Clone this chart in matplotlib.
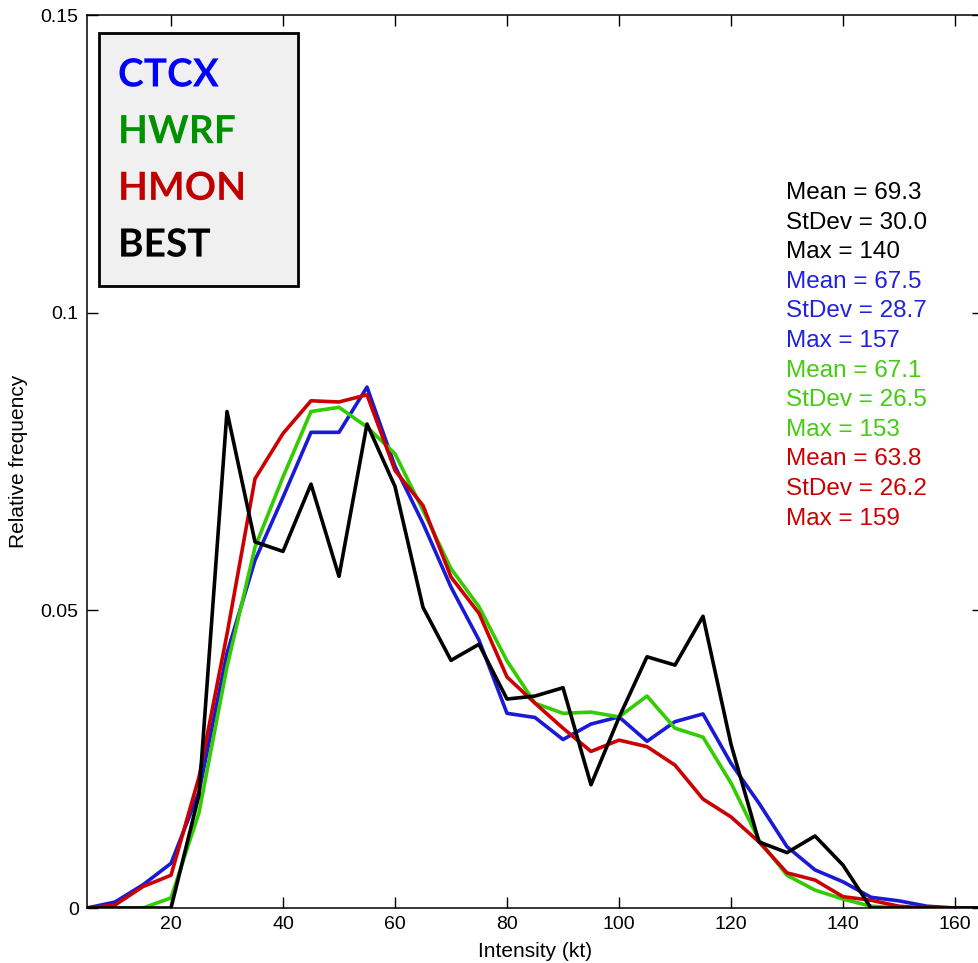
import matplotlib
matplotlib.use("Agg")
import matplotlib.pyplot as plt
import matplotlib.patheffects as pe
from matplotlib.patches import Rectangle

plt.rcParams['font.family'] = ['Liberation Sans', 'DejaVu Sans']

# intensity bins (kt)
intensity = [5, 10, 15, 20, 25, 30, 35, 40, 45, 50, 55, 60, 65, 70, 75, 80, 85,
             90, 95, 100, 105, 110, 115, 120, 125, 130, 135, 140, 145, 150, 155, 160, 165]

ctcx = [0, 0.001, 0.0039, 0.0075, 0.0195, 0.0428, 0.0584, 0.069, 0.0799, 0.0799, 0.0875,
        0.0742, 0.0646, 0.0539, 0.045, 0.0327, 0.032, 0.0283, 0.0309, 0.0321, 0.028,
        0.0313, 0.0326, 0.0243, 0.0176, 0.0103, 0.0064, 0.0044, 0.0018, 0.0012, 0.0003, 0, 0]
hwrf = [0, 0, 0, 0.0017, 0.016, 0.0405, 0.0606, 0.0724, 0.0834, 0.0841, 0.0808,
        0.0763, 0.0668, 0.057, 0.0506, 0.0415, 0.0344, 0.0327, 0.0329, 0.0321, 0.0356,
        0.0302, 0.0287, 0.021, 0.0114, 0.0055, 0.003, 0.0015, 0.0003, 0, 0, 0, 0]
hmon = [0, 0.0005, 0.0036, 0.0055, 0.022, 0.046, 0.0721, 0.0797, 0.0852, 0.085, 0.0862,
        0.0735, 0.0676, 0.0556, 0.0495, 0.0388, 0.0344, 0.0302, 0.0263, 0.0282, 0.0271,
        0.024, 0.0183, 0.0153, 0.0111, 0.0059, 0.0047, 0.0019, 0.0013, 0.0003, 0, 0, 0]
best = [0, 0, 0, 0, 0.019, 0.0834, 0.0615, 0.0599, 0.0712, 0.0557, 0.0813,
        0.0708, 0.0505, 0.0416, 0.0443, 0.0351, 0.0356, 0.037, 0.0207, 0.032, 0.0422,
        0.0408, 0.049, 0.0275, 0.0111, 0.0093, 0.0121, 0.0072, 0, 0, 0, 0, 0]

# stats printed on the right, one block per dataset
stats_best = ["Mean = 69.3", "StDev = 30.0", "Max = 140"]
stats_ctcx = ["Mean = 67.5", "StDev = 28.7", "Max = 157"]
stats_hwrf = ["Mean = 67.1", "StDev = 26.5", "Max = 153"]
stats_hmon = ["Mean = 63.8", "StDev = 26.2", "Max = 159"]

models = ["CTCX", "HWRF", "HMON", "BEST"]
legend_colors = ["#0000ff", "#009000", "#c00000", "#000000"]

c_blue, c_green, c_red, c_black = "#1a1ad6", "#33cc00", "#cc0000", "#000000"

W, H = 979, 963
fig = plt.figure(figsize=(W / 100, H / 100), dpi=100)
ax = fig.add_axes([87 / W, (H - 908) / H, (983 - 87) / W, (908 - 15) / H])

ax.plot(intensity, ctcx, color=c_blue, lw=2.6)
ax.plot(intensity, hwrf, color=c_green, lw=2.6)
ax.plot(intensity, hmon, color=c_red, lw=2.6)
ax.plot(intensity, best, color=c_black, lw=2.6)

ax.set_xlim(5, 165)
ax.set_ylim(0, 0.15)
ax.set_xticks([20, 40, 60, 80, 100, 120, 140, 160])
ax.set_yticks([0, 0.05, 0.1, 0.15])
ax.set_yticklabels(["0", "0.05", "0.1", "0.15"])
ax.tick_params(direction="in", top=True, right=True, length=8, width=1,
               labelsize=14, pad=6)
for s in ax.spines.values():
    s.set_linewidth(1.1)
ax.set_xlabel("Intensity (kt)", fontsize=15, labelpad=6)
ax.set_ylabel("Relative frequency", fontsize=15, labelpad=9)

# stats text
lines = ([(t, c_black) for t in stats_best] + [(t, "#2222dd") for t in stats_ctcx] +
         [(t, "#44cc11") for t in stats_hwrf] + [(t, "#cc0000") for t in stats_hmon])
for i, (t, c) in enumerate(lines):
    fig.text(786 / W, 1 - (193 + i * 29.6) / H, t, color=c, fontsize=17.5,
             va="center", ha="left")

# model label box
fig.patches.append(Rectangle((99 / W, 1 - 286 / H), 199 / W, 253 / H,
                             transform=fig.transFigure, facecolor="#f0f0f0",
                             edgecolor="black", lw=2, zorder=5))
for i, (m, c) in enumerate(zip(models, legend_colors)):
    t = fig.text(118 / W, 1 - (75 + i * 56.7) / H, m, color=c, fontsize=28,
                 fontweight="bold", family=["Lato", "DejaVu Sans"],
                 va="center", ha="left", zorder=6)
    t.set_path_effects([pe.SimpleLineShadow(offset=(1.5, -1.5), shadow_color="#777777", alpha=0.5),
                        pe.Normal()])

fig.savefig("out.png", dpi=100)
